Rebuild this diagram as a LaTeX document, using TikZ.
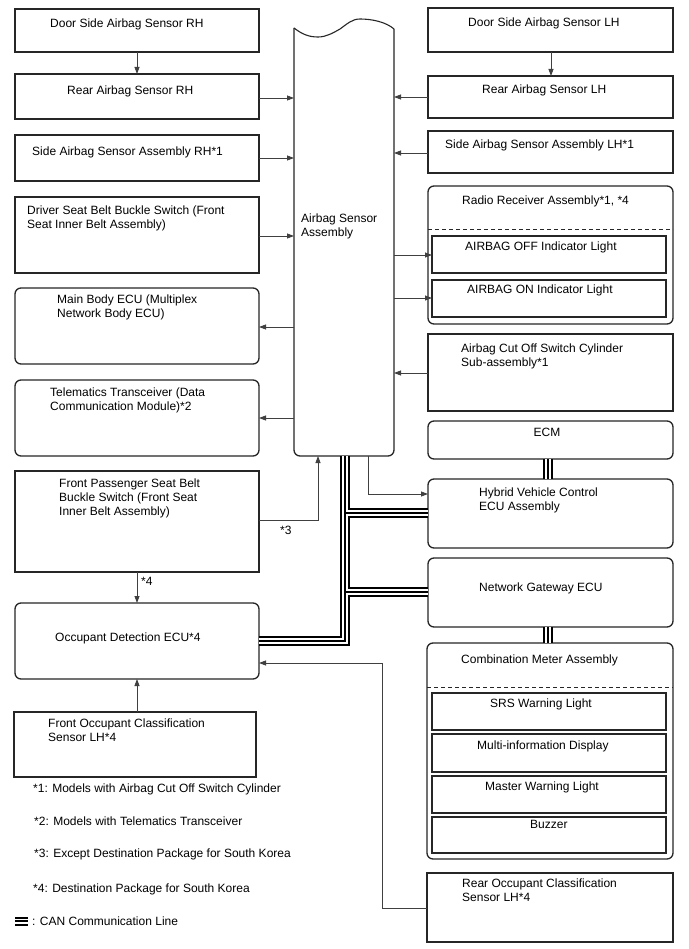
\documentclass[tikz,border=0pt]{standalone}
\usepackage{fontspec}
\setmainfont{Liberation Sans}
\usetikzlibrary{arrows.meta,calc}
\newcommand\mybox[6]{\node[#2, minimum width={(#5)-(#3)}, minimum height={(#6)-(#4)}] (#1) at (#3,#4) {};}
\begin{document}
\begin{tikzpicture}[x=1pt,y=-1pt,
  box/.style={draw=black!85, line width=1.3pt, inner sep=0pt, outer sep=0pt, anchor=north west},
  rbox/.style={box, rounded corners=6pt},
  ghost/.style={inner sep=0pt, outer sep=0pt, anchor=north west},
  txt/.style={anchor=north west, inner sep=0pt, align=left, font=\fontsize{12}{14}\selectfont},
  conn/.style={draw=black!75, line width=0.8pt},
  arr/.style={conn, -{Triangle[length=7pt,width=5pt]}},
  sep/.style={draw=black!85, line width=0.9pt, dash pattern=on 4pt off 3pt}
]
\useasboundingbox (0,0) rectangle (688,949);
\fill[white] (0,0) rectangle (688,949);

% ---- boxes, left column
\mybox{drh}{box}{15}{9}{259}{52}
\mybox{rrh}{box}{15}{74}{259}{119}
\mybox{srh}{box}{15}{135}{259}{181}
\mybox{dsb}{box}{15}{197}{259}{273}
\mybox{mbe}{rbox}{15}{288}{259}{364}
\mybox{tel}{rbox}{15}{380}{259}{456}
\mybox{fps}{box}{15}{471}{259}{572}
\mybox{ode}{rbox}{15}{603}{259}{679}
\mybox{foc}{box}{14}{712}{256}{777}
% ---- right column
\mybox{dlh}{box}{428}{8}{673}{52}
\mybox{rlh}{box}{428}{76}{673}{118}
\mybox{slh}{box}{428}{131}{673}{173}
\mybox{rad}{rbox}{428}{186}{673}{324}
\mybox{aoff}{box}{432}{236}{666}{273}
\mybox{aon}{box}{432}{280}{666}{317}
\mybox{cut}{box}{428}{334}{673}{411}
\mybox{ecm}{rbox}{428}{421}{673}{459}
\mybox{hyb}{rbox}{428}{479}{673}{548}
\mybox{ngw}{rbox}{428}{558}{673}{627}
\mybox{cmb}{rbox}{427}{643}{673}{859}
\mybox{srs}{box}{432}{693}{666}{730}
\mybox{mid}{box}{432}{734}{666}{772}
\mybox{mwl}{box}{432}{776}{666}{813}
\mybox{buz}{box}{432}{817}{666}{853}
\mybox{roc}{box}{427}{873}{673}{942}
% ---- airbag sensor assembly
\mybox{asa}{ghost}{294}{28}{394}{456}
\draw[draw=black!85, line width=1.3pt, rounded corners=6pt]
  (asa.north west) -- (asa.south west) -- (asa.south east) -- ($(asa.north east)+(0,1)$);
\draw[draw=black!85, line width=1.1pt]
  (asa.north west) .. controls (303,35) and (310,37) .. (318,37)
  .. controls (326,37) and (333,33) .. (340,29)
  .. controls (347,24) and (352,19) .. (360,19)
  .. controls (372,19) and (386,22) .. ($(asa.north east)+(0,1)$);

% ---- dashed separators
\draw[sep] (rad.west |- 0,229) -- (rad.east |- 0,229);
\draw[sep] (cmb.west |- 0,687) -- (cmb.east |- 0,687);

% ---- texts
\node[txt] (tdrh) at (50,18.4) {Door Side Airbag Sensor RH};
\node[txt] (trrh) at (67,85.4) {Rear Airbag Sensor RH};
\node[txt] (tsrh) at (32,146.4) {Side Airbag Sensor Assembly RH*1};
\node[txt] (tdsb) at (27,205.4) {Driver Seat Belt Buckle Switch (Front\\Seat Inner Belt Assembly)};
\node[txt] (tmbe) at (57,294.4) {Main Body ECU (Multiplex\\Network Body ECU)};
\node[txt] (ttel) at (50,387.4) {Telematics Transceiver (Data\\Communication Module)*2};
\node[txt] (tfps) at (59,478.4) {Front Passenger Seat Belt\\Buckle Switch (Front Seat\\Inner Belt Assembly)};
\node[txt] (tode) at (55,632.4) {Occupant Detection ECU*4};
\node[txt] (tfoc) at (48,718.4) {Front Occupant Classification\\Sensor LH*4};
\node[txt] (tdlh) at (468,17.4) {Door Side Airbag Sensor LH};
\node[txt] (trlh) at (482,84.4) {Rear Airbag Sensor LH};
\node[txt] (tslh) at (445,139.4) {Side Airbag Sensor Assembly LH*1};
\node[txt] (trad) at (462,195.4) {Radio Receiver Assembly*1, *4};
\node[txt] (taoff) at (465,241.4) {AIRBAG OFF Indicator Light};
\node[txt] (taon) at (467,284.4) {AIRBAG ON Indicator Light};
\node[txt] (tcut) at (461,343.4) {Airbag Cut Off Switch Cylinder\\Sub-assembly*1};
\node[txt, anchor=north] (tecm) at (547,428.4) {ECM};
\node[txt] (thyb) at (479,487.4) {Hybrid Vehicle Control\\ECU Assembly};
\node[txt] (tngw) at (479,582.4) {Network Gateway ECU};
\node[txt] (tcmb) at (461,654.4) {Combination Meter Assembly};
\node[txt] (tsrs) at (490,698.4) {SRS Warning Light};
\node[txt] (tmid) at (477,740.4) {Multi-information Display};
\node[txt] (tmwl) at (485,781.4) {Master Warning Light};
\node[txt] (tbuz) at (530,820.4) {Buzzer};
\node[txt] (troc) at (462,878.4) {Rear Occupant Classification\\Sensor LH*4};
\node[txt] (tasa) at (301,213.4) {Airbag Sensor\\Assembly};
\node[txt] (n1) at (33,783.4) {*1: Models with Airbag Cut Off Switch Cylinder};
\node[txt] (n2) at (34,816.4) {*2: Models with Telematics Transceiver};
\node[txt] (n3) at (34,848.4) {*3: Except Destination Package for South Korea};
\node[txt] (n4) at (33,883.4) {*4: Destination Package for South Korea};
\node[txt] (ncan) at (32,916.4) {: CAN Communication Line};
\node[txt] (l3) at (280,526.4) {*3};
\node[txt] (l4) at (141,577.4) {*4};

% ---- legend symbol
\foreach \yy in {917.5,921,924.5} \draw[line width=2pt] (15,\yy) -- (28,\yy);

% ---- signal connectors
\draw[arr] (137,0 |- drh.south) -- (137,0 |- rrh.north);
\draw[arr] (rrh.east |- 0,98) -- (asa.west |- 0,98);
\draw[arr] (srh.east |- 0,158) -- (asa.west |- 0,158);
\draw[arr] (dsb.east |- 0,236) -- (asa.west |- 0,236);
\draw[arr] (asa.west |- 0,327) -- (mbe.east |- 0,327);
\draw[arr] (asa.west |- 0,418) -- (tel.east |- 0,418);
\draw[arr] (fps.east |- 0,520) -| (318,0 |- asa.south);
\draw[arr] (137,0 |- fps.south) -- (137,0 |- ode.north);
\draw[arr] (137,0 |- foc.north) -- (137,0 |- ode.south);
\draw[arr] (roc.west |- 0,908) -| (382,663) -- (ode.east |- 0,663);
\draw[arr] (551,0 |- dlh.south) -- (551,0 |- rlh.north);
\draw[arr] (rlh.west |- 0,97) -- (asa.east |- 0,97);
\draw[arr] (slh.west |- 0,153) -- (asa.east |- 0,153);
\draw[arr] (asa.east |- 0,255) -- (aoff.west |- 0,255);
\draw[arr] (asa.east |- 0,298) -- (aon.west |- 0,298);
\draw[arr] (cut.west |- 0,373) -- (asa.east |- 0,373);
\draw[arr] (368,0 |- asa.south) |- (hyb.west |- 0,494);

% ---- CAN communication lines
\foreach \w/\c in {9.5/black, 5.5/white, 1.5/black} {
  \draw[line width=\w pt, draw=\c, line join=miter]
    (345,0 |- asa.south) -- (345,0 |- ode.east) -- (ode.east);
  \draw[line width=\w pt, draw=\c] (345,513) -- (hyb.west |- 0,513);
  \draw[line width=\w pt, draw=\c] (345,592) -- (ngw.west |- 0,592);
  \draw[line width=\w pt, draw=\c] (548,0 |- ecm.south) -- (548,0 |- hyb.north);
  \draw[line width=\w pt, draw=\c] (548,0 |- ngw.south) -- (548,0 |- cmb.north);
}
\end{tikzpicture}
\end{document}
